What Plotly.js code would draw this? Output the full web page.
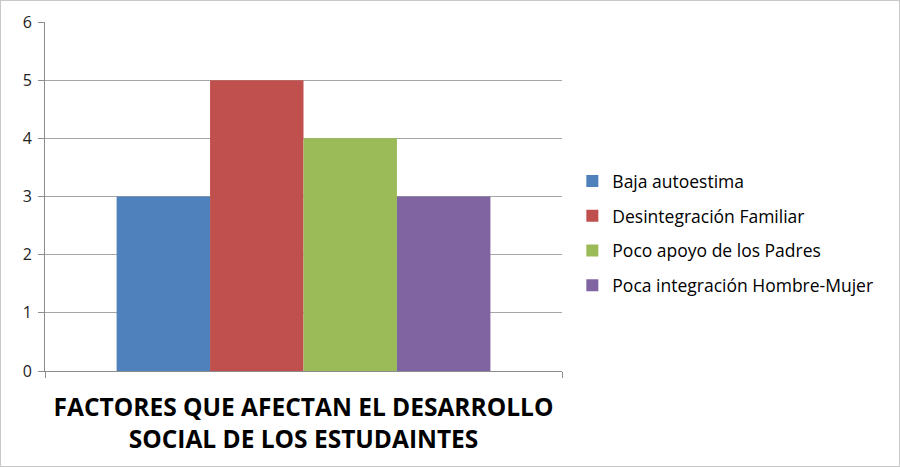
<!DOCTYPE html>
<html>
<head>
<meta charset="utf-8">
<script src="https://cdn.plot.ly/plotly-3.0.1.min.js"></script>
<style>
html,body{margin:0;padding:0;background:#fff;}
#chart{width:900px;height:467px;box-sizing:border-box;border:1px solid #c8c8c8;}
</style>
</head>
<body>
<div id="chart"></div>
<script>
const category = ["FACTORES QUE AFECTAN EL DESARROLLO<br>SOCIAL DE LOS ESTUDAINTES"];
const seriesNames = ["Baja autoestima", "Desintegración Familiar", "Poco apoyo de los Padres", "Poca integración Hombre-Mujer"];
const seriesValues = [3, 5, 4, 3];
const seriesColors = ["#4F81BD", "#C0504D", "#9BBB59", "#8064A2"];
const yTicks = [0, 1, 2, 3, 4, 5, 6];

const traces = seriesNames.map((name, i) => ({
  type: "bar",
  name: name,
  x: [category[0]],
  y: [seriesValues[i]],
  marker: {color: seriesColors[i]},
  legendgroup: "g" + i,
  hoverinfo: "name+y"
}));

const layout = {
  width: 898,
  height: 465,
  margin: {l: 44, r: 337, t: 21, b: 95},
  paper_bgcolor: "#fff",
  plot_bgcolor: "#fff",
  barmode: "group",
  bargap: 0.277,
  bargroupgap: 0,
  font: {family: "Open Sans, sans-serif", color: "#000"},
  xaxis: {
    type: "category",
    showticklabels: false,
    showline: true,
    linecolor: "#8c8c8c",
    linewidth: 1,
    ticks: "outside",
    tickson: "boundaries",
    ticklen: 6,
    tickcolor: "#8c8c8c",
    showgrid: false,
    title: {
      text: "<b>FACTORES QUE AFECTAN EL DESARROLLO<br>SOCIAL DE LOS ESTUDAINTES</b>",
      font: {family: "Open Sans, sans-serif", size: 24.5, color: "#000"},
      standoff: 27
    }
  },
  yaxis: {
    range: [0, 6],
    tickvals: yTicks,
    ticktext: yTicks.map(String),
    showline: true,
    linecolor: "#8c8c8c",
    linewidth: 1,
    ticks: "outside",
    ticklen: 6,
    tickcolor: "#8c8c8c",
    showgrid: true,
    gridcolor: "#a6a6a6",
    gridwidth: 1,
    zeroline: false,
    tickfont: {family: "Open Sans, sans-serif", size: 16, color: "#222"},
    ticklabelstandoff: 3
  },
  showlegend: true,
  legend: {
    x: 1.02,
    xanchor: "left",
    y: 0.395,
    yanchor: "middle",
    font: {family: "Open Sans, sans-serif", size: 17.5, color: "#000"},
    tracegroupgap: 9,
    traceorder: "grouped",
    itemwidth: 30
  }
};

Plotly.newPlot("chart", traces, layout, {displayModeBar: false, staticPlot: true});
</script>
</body>
</html>
